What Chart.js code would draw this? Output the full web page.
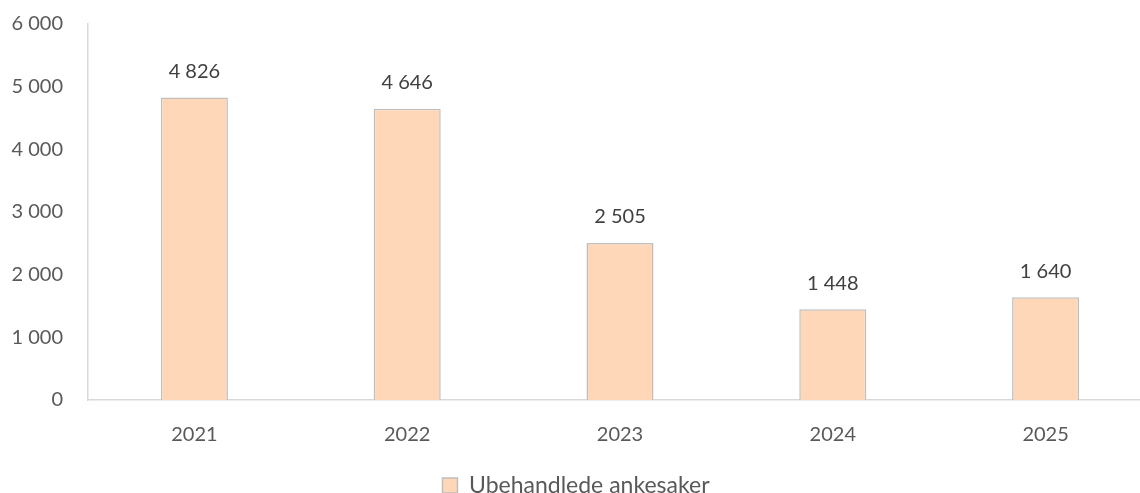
<!DOCTYPE html>
<html lang="no">
<head>
  <meta charset="UTF-8" />
  <title>Ubehandlede ankesaker</title>
  <script src="https://cdn.jsdelivr.net/npm/chart.js"></script>
  <style>
    html, body {
      margin: 0;
      padding: 0;
      background: #ffffff;
      overflow: hidden;
    }
    .wrap {
      position: relative;
      width: 1160px;
      height: 507px;
    }
  </style>
</head>
<body>
  <div class="wrap">
    <canvas id="chart"></canvas>
  </div>

  <script>
    // data
    const years = ["2021", "2022", "2023", "2024", "2025"];
    const ankesaker = [4826, 4646, 2505, 1448, 1640];
    const seriesName = "Ubehandlede ankesaker";
    const yTicks = [0, 1000, 2000, 3000, 4000, 5000, 6000];

    const fmt = n => String(n).replace(/\B(?=(\d{3})+(?!\d))/g, " ");

    // labels over the bars
    const barLabels = {
      id: "barLabels",
      afterDatasetsDraw(chart) {
        const ctx = chart.ctx;
        const meta = chart.getDatasetMeta(0);
        ctx.save();
        ctx.font = "20px Lato";
        ctx.fillStyle = "#404040";
        ctx.textAlign = "center";
        ctx.textBaseline = "middle";
        meta.data.forEach((bar, i) => {
          ctx.fillText(fmt(ankesaker[i]), bar.x, bar.y - 26);
        });
        ctx.restore();
      }
    };

    Chart.defaults.font.family = "Lato";
    Chart.defaults.font.size = 20;
    Chart.defaults.color = "#595959";

    new Chart(document.getElementById("chart"), {
      type: "bar",
      data: {
        labels: years,
        datasets: [{
          label: seriesName,
          data: ankesaker,
          backgroundColor: "rgb(253, 215, 183)",
          borderColor: "#bfbfbf",
          borderWidth: 1.5,
          barPercentage: 0.315,
          categoryPercentage: 1
        }]
      },
      options: {
        responsive: true,
        maintainAspectRatio: false,
        animation: false,
        layout: { padding: { top: 24, right: 8, left: 0, bottom: 0 } },
        plugins: {
          legend: {
            position: "bottom",
            labels: {
              boxWidth: 15,
              boxHeight: 15,
              padding: 10,
              color: "#595959",
              font: { size: 23 }
            }
          },
          tooltip: { enabled: false }
        },
        scales: {
          x: {
            grid: { display: false, drawTicks: false },
            border: { color: "#d9d9d9", width: 1.5 },
            ticks: { padding: 23 },
            afterFit: s => { s.height = s.chart.height - s.chart.legend.height - 400; }
          },
          y: {
            min: 0,
            max: 6000,
            afterBuildTicks: s => { s.ticks = yTicks.map(v => ({ value: v })); },
            grid: { display: false, drawTicks: false },
            border: { color: "#d9d9d9", width: 1.5 },
            ticks: { padding: 25, callback: v => fmt(v) },
            afterFit: s => {
              s.width = 88;
              s.paddingTop = 0;
              s.paddingBottom = 0;
            }
          }
        }
      },
      plugins: [barLabels]
    });
  </script>
</body>
</html>
